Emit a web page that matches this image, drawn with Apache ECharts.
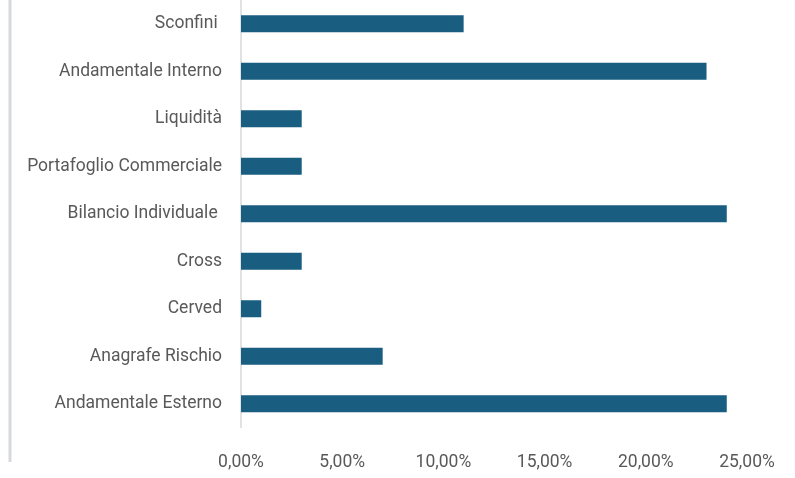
<!DOCTYPE html>
<html>
<head>
<meta charset="utf-8">
<script src="https://cdn.jsdelivr.net/npm/echarts@6/dist/echarts.min.js"></script>
<style>html,body{margin:0;padding:0;background:#fff;}#c{width:795px;height:478px;}</style>
</head>
<body>
<div id="c"></div>
<script>
const categories = ["Andamentale Esterno", "Anagrafe Rischio", "Cerved", "Cross", "Bilancio Individuale ", "Portafoglio Commerciale", "Liquidità", "Andamentale Interno", "Sconfini "];
const values = [0.24, 0.07, 0.01, 0.03, 0.24, 0.03, 0.03, 0.23, 0.11];
const axisMin = 0, axisMax = 0.25, axisStep = 0.05;

const FONT = '"Liberation Sans Narrow", "Roboto", sans-serif';
const chart = echarts.init(document.getElementById('c'), null, {renderer: 'canvas'});
chart.setOption({
  animation: false,
  backgroundColor: '#ffffff',
  grid: {left: 241, right: 48, top: -5.5, bottom: 50.5, containLabel: false},
  xAxis: {
    type: 'value', min: axisMin, max: axisMax, interval: axisStep,
    axisLine: {show: false}, axisTick: {show: false}, splitLine: {show: false},
    axisLabel: {
      color: '#595959', fontFamily: FONT, fontSize: 17.5, margin: 26,
      formatter: v => (v * 100).toFixed(2).replace('.', ',') + '%'
    }
  },
  yAxis: {
    type: 'category', data: categories,
    axisLine: {show: true, lineStyle: {color: '#d9d9d9', width: 1.5}},
    axisTick: {show: false},
    axisLabel: {color: '#595959', fontFamily: FONT, fontSize: 17.5, margin: 19}
  },
  series: [{
    type: 'bar', data: values, barWidth: 17,
    itemStyle: {color: '#195e80'}
  }],
  graphic: [{
    type: 'line', shape: {x1: 10, y1: 0, x2: 10, y2: 462},
    style: {stroke: '#d6d9de', lineWidth: 3}
  }]
});
</script>
</body>
</html>
